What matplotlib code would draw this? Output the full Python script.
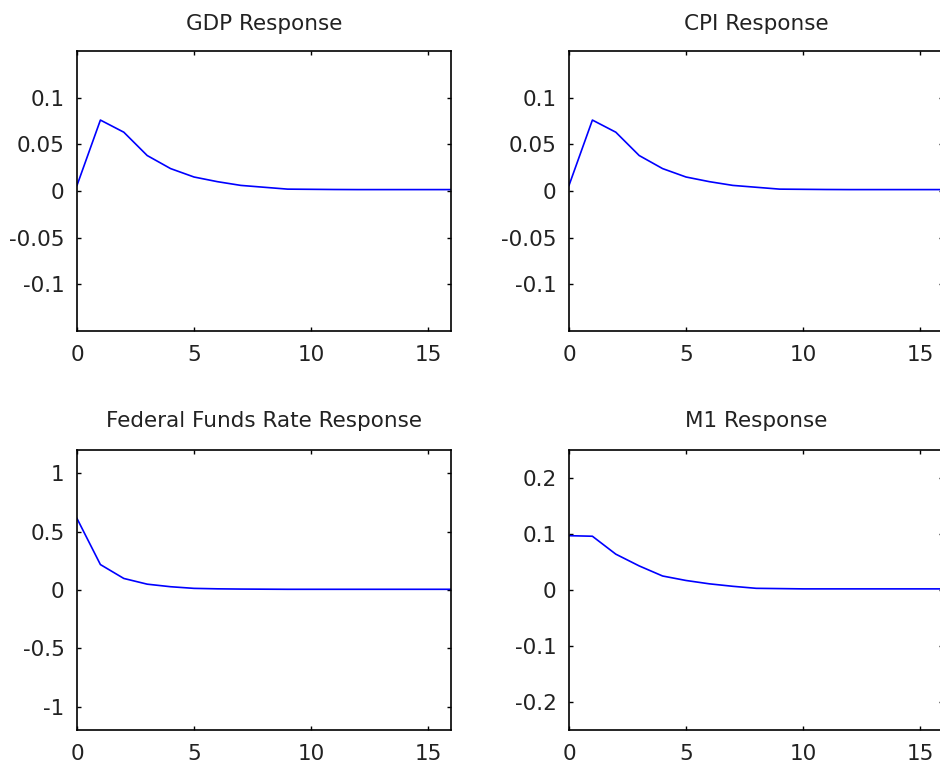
import matplotlib
matplotlib.use('Agg')
import matplotlib.pyplot as plt

# impulse responses, horizon 0..16
t = list(range(17))
gdp = [0.006, 0.076, 0.063, 0.038, 0.024, 0.015, 0.010, 0.006, 0.004, 0.002,
       0.0018, 0.0016, 0.0015, 0.0015, 0.0015, 0.0015, 0.0015]
cpi = [0.006, 0.076, 0.063, 0.038, 0.024, 0.015, 0.010, 0.006, 0.004, 0.002,
       0.0018, 0.0016, 0.0015, 0.0015, 0.0015, 0.0015, 0.0015]
ffr = [0.613, 0.218, 0.099, 0.050, 0.028, 0.014, 0.010, 0.008, 0.007, 0.006,
       0.006, 0.006, 0.006, 0.006, 0.006, 0.006, 0.006]
m1 = [0.097, 0.096, 0.064, 0.043, 0.025, 0.017, 0.011, 0.0066, 0.003, 0.0025,
      0.002, 0.002, 0.002, 0.002, 0.002, 0.002, 0.002]

titles = ['GDP Response', 'CPI Response', 'Federal Funds Rate Response', 'M1 Response']
series = [gdp, cpi, ffr, m1]
ylims = [(-0.15, 0.15), (-0.15, 0.15), (-1.2, 1.2), (-0.25, 0.25)]
yticks = [[-0.1, -0.05, 0, 0.05, 0.1], [-0.1, -0.05, 0, 0.05, 0.1],
          [-1, -0.5, 0, 0.5, 1], [-0.2, -0.1, 0, 0.1, 0.2]]
ylabels = [['-0.1', '-0.05', '0', '0.05', '0.1'], ['-0.1', '-0.05', '0', '0.05', '0.1'],
           ['-1', '-0.5', '0', '0.5', '1'], ['-0.2', '-0.1', '0', '0.1', '0.2']]

plt.rcParams['font.family'] = ['DejaVu Sans']
plt.rcParams['font.size'] = 15.5

fig = plt.figure(figsize=(9.4, 7.65), dpi=100)
W, H = 940.0, 765.0
boxes = [(77, 51), (569, 51), (77, 450), (569, 450)]  # left, top in pixels
aw, ah = 374.4, 280

for i in range(4):
    l, top = boxes[i]
    ax = fig.add_axes([l / W, (H - top - ah) / H, aw / W, ah / H])
    ax.plot(t, series[i], color='#0000ff', lw=1.2)
    ax.set_xlim(0, 16)
    ax.set_ylim(*ylims[i])
    ax.set_xticks([0, 5, 10, 15])
    ax.set_yticks(yticks[i])
    ax.set_yticklabels(ylabels[i])
    ax.tick_params(direction='in', top=True, right=True, length=3, width=1,
                   colors='black', labelcolor='#222222')
    ax.tick_params(axis='y', pad=9)
    ax.tick_params(axis='x', pad=10)
    for s in ax.spines.values():
        s.set_linewidth(1.2)
    ax.set_title(titles[i], fontsize=15.5, pad=15 if i < 2 else 16.5, color='#222222')

fig.savefig('out.png', dpi=100)
